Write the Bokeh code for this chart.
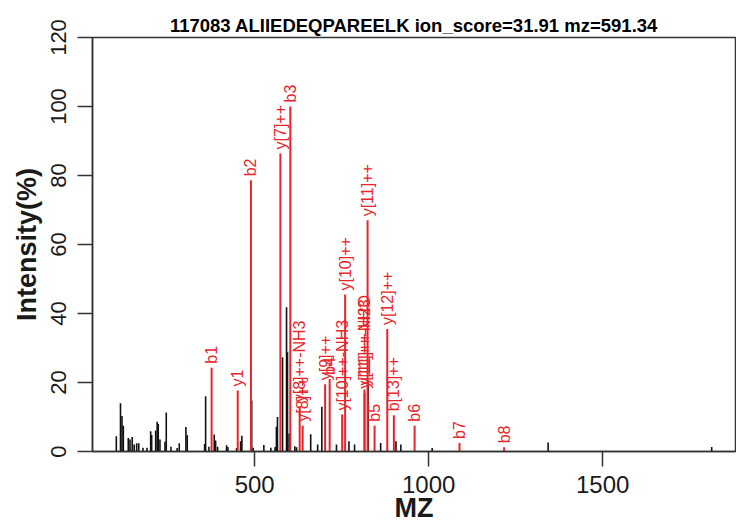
import math
from bokeh.plotting import figure
from bokeh.models import Range1d, FixedTicker, ColumnDataSource
from bokeh.embed import file_html
from bokeh.resources import INLINE
from bokeh.core.properties import value

title_text = "117083 ALIIEDEQPAREELK ion_score=31.91 mz=591.34"
x_title = "MZ"
y_title = "Intensity(%)"

# unmatched (black) peaks
black_mz = [102.5, 114.5, 118.8, 122.6, 136.9, 141.8, 148.1, 153.8, 161.0, 167.0,
            179.1, 190.6, 201.2, 204.1, 215.6, 219.9, 223.0, 227.9, 242.3, 246.0,
            259.5, 277.3, 283.3, 302.5, 306.3, 356.2, 359.1, 368.5, 383.8, 387.8,
            393.5, 419.3, 423.1, 448.1, 459.5, 463.3, 491.5, 495.7, 526.4, 546.5,
            558.8, 562.5, 565.5, 580.1, 591.6, 594.4, 599.0, 615.4, 620.3, 661.0,
            681.0, 693.0, 735.0, 771.0, 787.0, 826.0, 862.0, 906.0, 920.0, 1010.0,
            1343.2, 1813.1]
black_int = [4.4, 14.0, 10.3, 7.5, 3.9, 3.5, 4.2, 2.0, 2.4, 2.4,
             1.1, 1.1, 5.9, 4.8, 6.1, 8.6, 8.0, 3.5, 2.8, 11.3,
             1.4, 1.0, 2.4, 7.1, 4.7, 2.2, 16.0, 1.4, 4.9, 3.2,
             1.4, 1.8, 1.3, 1.0, 3.0, 4.6, 14.8, 1.1, 1.9, 1.1,
             1.3, 7.2, 10.0, 27.3, 41.8, 28.8, 5.2, 1.5, 1.2, 5.0,
             2.0, 13.0, 2.0, 3.0, 2.0, 20.0, 2.5, 3.0, 2.0, 1.0,
             2.6, 1.3]

# matched (red) fragment ions
ion_labels = ["b1", "y1", "b2", "y[7]++", "b3", "y[8]++-NH3", "y[8]++", "y[9]++", "b4",
              "y[10]++-NH3", "y[10]++", "y[11]++-H2O", "y[11]++-NH3", "y[11]++", "b5",
              "y[12]++", "b[13]++", "b6", "b7", "b8"]
ion_mz = [376.25, 451.32, 489.33, 573.84, 602.42, 629.36, 637.87, 702.39, 715.50,
          751.39, 759.91, 815.42, 815.92, 824.43, 844.54,
          880.97, 899.98, 959.57, 1088.61, 1216.67]
ion_int = [24.3, 17.7, 78.6, 86.4, 100.0, 13.1, 7.5, 19.5, 21.0,
           10.7, 45.5, 18.0, 17.0, 67.0, 7.5,
           35.5, 10.5, 7.5, 2.5, 1.2]

x_ticks = [500, 1000, 1500]
y_ticks = [0, 20, 40, 60, 80, 100, 120]

RED = "#e8252b"
DARK = "#333333"

all_mz = black_mz + ion_mz
lo, hi = min(all_mz), max(all_mz)
pad = 0.04 * (hi - lo)
x0, x1 = lo - pad, hi + pad

p = figure(width=736, height=529, output_backend="svg", toolbar_location=None,
           x_range=Range1d(x0, x1), y_range=Range1d(0, 120),
           min_border_left=92, min_border_right=1, min_border_top=37,
           min_border_bottom=78, background_fill_color="white",
           border_fill_color="white")

p.title.text = title_text
p.title.align = "center"
p.title.text_font = "Liberation Sans"
p.title.text_font_size = "18.5px"
p.title.text_font_style = "bold"
p.title.text_color = "black"
p.title.standoff = 4

p.xgrid.visible = False
p.ygrid.visible = False
p.outline_line_color = DARK
p.outline_line_width = 1.5

bsrc = ColumnDataSource(dict(mz=black_mz, inten=black_int))
p.segment(x0="mz", y0=0, x1="mz", y1="inten", source=bsrc,
          line_color="#111111", line_width=1.6)

isrc = ColumnDataSource(dict(mz=ion_mz, inten=ion_int, label=ion_labels))
p.segment(x0="mz", y0=0, x1="mz", y1="inten", source=isrc,
          line_color=RED, line_width=2)
p.text(x="mz", y="inten", text="label", source=isrc, angle=math.pi / 2,
       text_align="left", text_baseline="middle", text_color=RED,
       text_font=value("Liberation Sans"), text_font_size="16px", y_offset=-4)

for ax in (p.xaxis[0], p.yaxis[0]):
    ax.axis_line_color = DARK
    ax.axis_line_width = 1.5
    ax.major_tick_line_color = DARK
    ax.major_tick_line_width = 1.5
    ax.major_tick_in = 0
    ax.major_tick_out = 15
    ax.minor_tick_in = 0
    ax.minor_tick_out = 0
    ax.major_label_text_font = "Liberation Sans"
    ax.major_label_text_color = "#1a1a1a"
    ax.axis_label_text_font = "Liberation Sans"
    ax.axis_label_text_font_style = "bold"
    ax.axis_label_text_color = "#1a1a1a"

p.xaxis.ticker = FixedTicker(ticks=x_ticks)
p.xaxis.major_label_text_font_size = "24px"
p.xaxis.major_label_standoff = 9
p.xaxis.axis_label = x_title
p.xaxis.axis_label_text_font_size = "27px"
p.xaxis.axis_label_standoff = -3

p.yaxis.ticker = FixedTicker(ticks=y_ticks)
p.yaxis.major_label_orientation = "vertical"
p.yaxis.major_label_text_font_size = "22px"
p.yaxis.major_label_standoff = 12
p.yaxis.axis_label = y_title
p.yaxis.axis_label_text_font_size = "27px"
p.yaxis.axis_label_standoff = 6

open("out.html", "w").write(file_html(p, INLINE))
